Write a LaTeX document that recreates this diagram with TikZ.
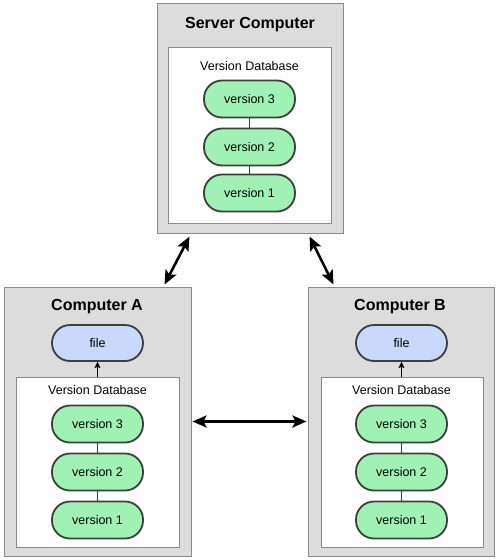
\documentclass[tikz,border=0pt]{standalone}
\usepackage{fontspec}
\setmainfont{Liberation Sans}
\usetikzlibrary{arrows.meta}
\definecolor{boxgray}{HTML}{DCDCDC}
\definecolor{boxedge}{HTML}{8A8A8A}
\definecolor{pillgreen}{HTML}{A0F2B4}
\definecolor{pillblue}{HTML}{C9D9FB}
\definecolor{pilledge}{HTML}{3E3E3E}
\tikzset{
  outerbox/.style={draw=boxedge, fill=boxgray, line width=1pt, rectangle, inner sep=0pt},
  innerbox/.style={draw=boxedge, fill=white, line width=1pt, rectangle, inner sep=0pt},
  pill/.style={draw=pilledge, line width=1.8pt, rounded corners=18pt, minimum width=91pt, minimum height=37pt, inner sep=0pt, font=\fontsize{12.5}{14}\selectfont},
  verpill/.style={pill, fill=pillgreen},
  filepill/.style={pill, fill=pillblue, minimum height=36pt},
  title/.style={font=\fontsize{16}{18}\selectfont\bfseries, inner sep=0pt},
  dblabel/.style={font=\fontsize{12.5}{14}\selectfont, inner sep=0pt},
  link/.style={draw=pilledge, line width=0.9pt},
  dbl/.style={line width=2.6pt, {Stealth[length=14pt,width=12pt,inset=3pt]}-{Stealth[length=14pt,width=12pt,inset=3pt]}},
  uparrow/.style={line width=0.9pt, -{Stealth[length=6pt,width=6pt,inset=1pt]}}
}
\begin{document}
\begin{tikzpicture}[x=1pt,y=-1pt]
\useasboundingbox (0,0) rectangle (500,560);
% Server
\node[outerbox, minimum width=186pt, minimum height=230pt] (srv) at (250,118) {};
\node[innerbox, minimum width=163pt, minimum height=176pt] (srvdb) at (249.5,135) {};
\node[title] (srvt) at (250,25) {Server Computer};
\node[dblabel] (srvl) at (249.5,66) {Version Database};
\node[verpill] (s3) at (249.5,99) {version 3};
\node[verpill] (s2) at (249.5,147) {version 2};
\node[verpill] (s1) at (249.5,193) {version 1};
\draw[link] (s3) -- (s2);
\draw[link] (s2) -- (s1);
% Computer A
\node[outerbox, minimum width=187pt, minimum height=269pt] (ca) at (97.5,421.5) {};
\node[innerbox, minimum width=163pt, minimum height=170pt] (cadb) at (97.5,462) {};
\node[title] (cat) at (97,307) {Computer A};
\node[filepill] (af) at (97.5,343) {file};
\node[dblabel] (al) at (97.5,390) {Version Database};
\node[verpill] (a3) at (97.5,424) {version 3};
\node[verpill] (a2) at (97.5,472) {version 2};
\node[verpill] (a1) at (97.5,520) {version 1};
\draw[link] (a3) -- (a2);
\draw[link] (a2) -- (a1);
\draw[uparrow] (cadb.north -| af.south) -- (af.south);
% Computer B
\node[outerbox, minimum width=186pt, minimum height=269pt] (cb) at (401,421.5) {};
\node[innerbox, minimum width=162pt, minimum height=170pt] (cbdb) at (402,462) {};
\node[title] (cbt) at (400,307) {Computer B};
\node[filepill] (bf) at (401.5,343) {file};
\node[dblabel] (bl) at (401.5,390) {Version Database};
\node[verpill] (b3) at (401.5,424) {version 3};
\node[verpill] (b2) at (401.5,472) {version 2};
\node[verpill] (b1) at (401.5,520) {version 1};
\draw[link] (b3) -- (b2);
\draw[link] (b2) -- (b1);
\draw[uparrow] (cbdb.north -| bf.south) -- (bf.south);
% Connectors
\draw[dbl] ([xshift=33pt,yshift=-3pt]srv.south west) -- ([xshift=161pt,yshift=2pt]ca.north west);
\draw[dbl] ([xshift=-34pt,yshift=-3pt]srv.south east) -- ([xshift=-161pt,yshift=2pt]cb.north east);
\draw[dbl] ([xshift=1pt]ca.east) -- ([xshift=-1pt]cb.west);
\end{tikzpicture}
\end{document}
